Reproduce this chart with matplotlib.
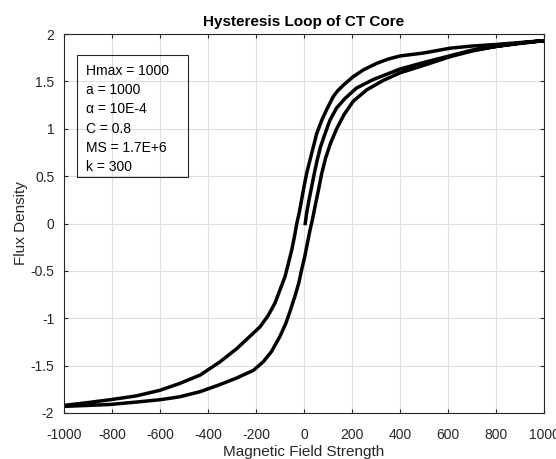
import numpy as np
import matplotlib
matplotlib.use("Agg")
import matplotlib.pyplot as plt
from matplotlib.patches import Rectangle

plt.rcParams['font.family'] = ['Liberation Sans', 'DejaVu Sans']
plt.rcParams['axes.unicode_minus'] = False

# initial magnetisation curve
h_init = [5, 11, 21, 32, 43, 55, 69, 88, 108, 136, 171, 219, 289, 400,
          500, 608, 700, 803, 900, 1000]
b_init = [0, 0.11, 0.25, 0.39, 0.53, 0.67, 0.81, 0.95, 1.09, 1.22, 1.32, 1.43, 1.52, 1.63,
          1.70, 1.77, 1.83, 1.87, 1.905, 1.93]

# descending branch
h_down = [1000, 900, 803, 700, 608, 500, 400, 350, 303, 250, 205, 164, 140, 122, 94, 74,
          53, 39, 25, 11, 0, -10, -19, -30, -40, -51, -65, -79, -100, -121, -149, -183,
          -225, -280, -350, -433, -520, -600, -700, -808, -900, -1000]
b_down = [1.93, 1.91, 1.89, 1.873, 1.85, 1.80, 1.768, 1.735, 1.69, 1.625, 1.55, 1.46,
          1.40, 1.34, 1.20, 1.09, 0.95, 0.81, 0.67, 0.53, 0.39, 0.25, 0.125, 0, -0.14,
          -0.28, -0.42, -0.56, -0.70, -0.84, -0.97, -1.09, -1.19, -1.32, -1.46, -1.60,
          -1.69, -1.76, -1.82, -1.86, -1.89, -1.92]

# ascending branch
h_up = [-1000, -900, -808, -700, -600, -520, -433, -350, -280, -211, -170, -135, -100,
        -75, -56, -38, -22, -10, 3, 14, 25, 35, 46, 60, 74, 90, 111, 136, 167, 205,
        261, 330, 400, 500, 608, 700, 803, 900, 1000]
b_up = [-1.93, -1.92, -1.91, -1.885, -1.86, -1.83, -1.775, -1.70, -1.63, -1.55, -1.46,
        -1.35, -1.19, -1.05, -0.91, -0.77, -0.63, -0.49, -0.35, -0.21, -0.07, 0.04,
        0.18, 0.35, 0.53, 0.69, 0.85, 1.00, 1.15, 1.29, 1.41, 1.51, 1.59, 1.67, 1.76,
        1.82, 1.87, 1.90, 1.93]

params = ["Hmax = 1000", "a = 1000", "α = 10E-4", "C = 0.8", "MS = 1.7E+6", "k = 300"]

xticks = np.arange(-1000, 1001, 200)
yticks = np.arange(-2, 2.01, 0.5)

fig = plt.figure(figsize=(5.56, 4.59), dpi=100)
ax = fig.add_axes([64 / 556, 1 - 413 / 459, 480 / 556, 379 / 459])

h_all = h_init + h_down + h_up
b_all = b_init + b_down + b_up
ax.plot(h_all, b_all, color='black', lw=2.5, solid_joinstyle='round')

ax.set_xlim(-1000, 1000)
ax.set_ylim(-2, 2)
ax.set_xticks(xticks)
ax.set_yticks(yticks)
ax.set_xticklabels([str(v) for v in xticks])
ax.set_yticklabels([f"{v:g}" for v in yticks])
ax.grid(True, color='#dedede', lw=0.8)
ax.set_axisbelow(True)
ax.tick_params(direction='in', length=3, width=0.8, colors='#262626', labelsize=10,
               top=True, right=True)
ax.tick_params(axis='x', pad=11)
ax.tick_params(axis='y', pad=7)
for s in ax.spines.values():
    s.set_color('#262626')
    s.set_linewidth(0.8)

ax.set_title("Hysteresis Loop of CT Core", fontsize=11, fontweight='bold', pad=6)
ax.set_xlabel("Magnetic Field Strength", fontsize=11, color='#262626', labelpad=2)
ax.set_ylabel("Flux Density", fontsize=11, color='#262626', labelpad=2)

# parameter box
fig.add_artist(Rectangle((77 / 556, 1 - 177 / 459), 111 / 556, 122 / 459,
                         transform=fig.transFigure, fill=False, ec='#262626', lw=0.8))
for i, t in enumerate(params):
    fig.text(86 / 556, 1 - (70.7 + 19.3 * i) / 459, t, fontsize=10, va='center',
             ha='left', color='black')

fig.savefig("out.png", dpi=100)
